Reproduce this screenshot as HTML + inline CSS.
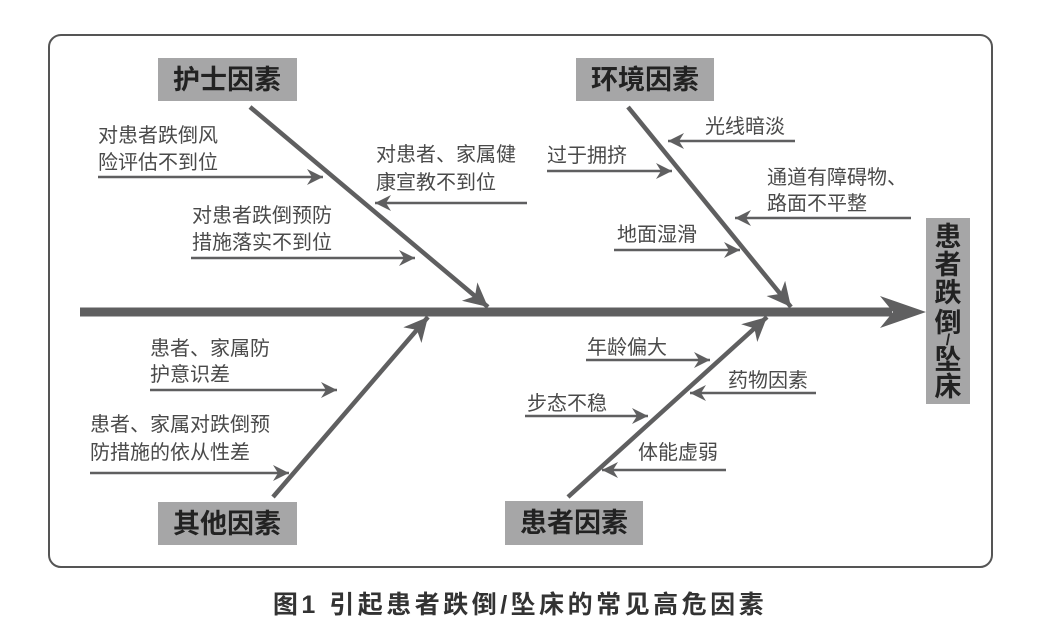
<!DOCTYPE html>
<html><head><meta charset="utf-8"><style>
html,body{margin:0;padding:0;background:#fff;}
svg{display:block;}
text{font-family:"Liberation Sans","Noto Sans CJK SC",sans-serif;}
.t{font-size:20px;fill:#4a4a4a;}
.b{font-size:27px;font-weight:bold;fill:#222;}
.v{font-size:27px;font-weight:bold;fill:#222;}
</style></head><body>
<svg width="1049" height="632" viewBox="0 0 1049 632" xmlns="http://www.w3.org/2000/svg">
<defs>
<marker id="a" markerUnits="userSpaceOnUse" markerWidth="20" markerHeight="20" refX="16" refY="8" orient="auto">
<path d="M0,0 L16,8 L0,16 L5,8 Z" fill="#5f5f60"/></marker>
<marker id="c" markerUnits="userSpaceOnUse" markerWidth="30" markerHeight="30" refX="24" refY="12" orient="auto">
<path d="M0,0 L24,12 L0,24 L7,12 Z" fill="#5f5f60"/></marker>
</defs>
<rect x="49" y="35" width="943" height="532" rx="12" fill="none" stroke="#555" stroke-width="2"/>
<line x1="80" y1="312" x2="892" y2="312" stroke="#5f5f60" stroke-width="9"/>
<path d="M880,296 L926,312 L880,328 L893,312 Z" fill="#5f5f60"/>
<rect x="926" y="218" width="44" height="186" fill="#a6a6a7"/>
<text class="v" x="948" y="246" text-anchor="middle">患</text>
<text class="v" x="948" y="274" text-anchor="middle">者</text>
<text class="v" x="948" y="302" text-anchor="middle">跌</text>
<text class="v" x="948" y="332" text-anchor="middle">倒</text>
<text x="948" y="345" text-anchor="middle" font-size="16" font-weight="bold" fill="#222">/</text>
<text class="v" x="948" y="369" text-anchor="middle">坠</text>
<text class="v" x="948" y="396" text-anchor="middle">床</text>
<rect x="158" y="58" width="139" height="43" fill="#a6a6a7"/>
<text class="b" x="227" y="89" text-anchor="middle">护士因素</text>
<rect x="576" y="58" width="138" height="43" fill="#a6a6a7"/>
<text class="b" x="645" y="89" text-anchor="middle">环境因素</text>
<rect x="158" y="502" width="139" height="43" fill="#a6a6a7"/>
<text class="b" x="227" y="533" text-anchor="middle">其他因素</text>
<rect x="505" y="501" width="138" height="44" fill="#a6a6a7"/>
<text class="b" x="574" y="532" text-anchor="middle">患者因素</text>
<g stroke="#5f5f60" stroke-width="4.5" fill="none">
<line x1="250" y1="107" x2="488" y2="307" marker-end="url(#c)"/>
<line x1="628" y1="107" x2="791" y2="307" marker-end="url(#c)"/>
<line x1="273" y1="497" x2="428" y2="317" marker-end="url(#c)"/>
<line x1="568" y1="497" x2="767" y2="317" marker-end="url(#c)"/>
</g>
<g stroke="#5f5f60" stroke-width="2.5" fill="none">
<line x1="98" y1="177" x2="323" y2="177" marker-end="url(#a)"/>
<line x1="527" y1="203" x2="375" y2="203" marker-end="url(#a)"/>
<line x1="191" y1="258" x2="415" y2="258" marker-end="url(#a)"/>
<line x1="795" y1="141" x2="668" y2="141" marker-end="url(#a)"/>
<line x1="547" y1="171" x2="672" y2="171" marker-end="url(#a)"/>
<line x1="911" y1="218" x2="735" y2="218" marker-end="url(#a)"/>
<line x1="614" y1="250" x2="740" y2="250" marker-end="url(#a)"/>
<line x1="150" y1="390" x2="337" y2="390" marker-end="url(#a)"/>
<line x1="90" y1="473" x2="289" y2="473" marker-end="url(#a)"/>
<line x1="586" y1="360" x2="710" y2="360" marker-end="url(#a)"/>
<line x1="816" y1="393" x2="690" y2="393" marker-end="url(#a)"/>
<line x1="525" y1="416" x2="648" y2="416" marker-end="url(#a)"/>
<line x1="726" y1="470" x2="602" y2="470" marker-end="url(#a)"/>
</g>
<g class="t">
<text x="98" y="142">对患者跌倒风</text>
<text x="98" y="169">险评估不到位</text>
<text x="376" y="161">对患者、家属健</text>
<text x="376" y="189">康宣教不到位</text>
<text x="192" y="222">对患者跌倒预防</text>
<text x="192" y="249">措施落实不到位</text>
<text x="705" y="133">光线暗淡</text>
<text x="547" y="162">过于拥挤</text>
<text x="767" y="184">通道有障碍物、</text>
<text x="767" y="210">路面不平整</text>
<text x="617" y="241">地面湿滑</text>
<text x="150" y="355">患者、家属防</text>
<text x="150" y="381">护意识差</text>
<text x="90" y="431">患者、家属对跌倒预</text>
<text x="90" y="459">防措施的依从性差</text>
<text x="587" y="354">年龄偏大</text>
<text x="728" y="387">药物因素</text>
<text x="527" y="410">步态不稳</text>
<text x="638" y="459">体能虚弱</text>
</g>
<text x="520" y="613" text-anchor="middle" font-size="25" font-weight="bold" fill="#333" letter-spacing="3.5">图1  引起患者跌倒/坠床的常见高危因素</text>
</svg>
</body></html>
